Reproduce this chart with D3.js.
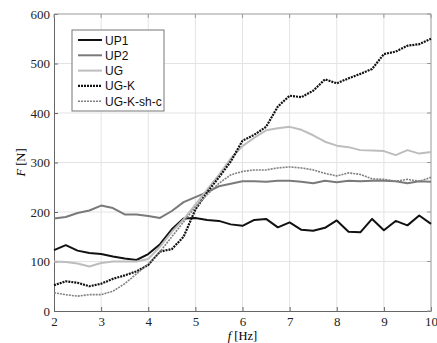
<!DOCTYPE html>
<html>
<head>
<meta charset="utf-8">
<script src="https://cdn.jsdelivr.net/npm/d3@7"></script>
<style>
  body { margin: 0; background: #fff; }
  .legend text { font-family: "Liberation Sans", Arial, sans-serif; font-size: 12px; fill: #111; }
</style>
</head>
<body>
<div id="chart"></div>
<script>
// frequency steps (Hz)
const freq = [2, 2.25, 2.5, 2.75, 3, 3.25, 3.5, 3.75, 4, 4.25, 4.5, 4.75, 5, 5.25, 5.5, 5.75,
  6, 6.25, 6.5, 6.75, 7, 7.25, 7.5, 7.75, 8, 8.25, 8.5, 8.75, 9, 9.25, 9.5, 9.75, 10];

const up1 = [123, 133, 122, 117, 115, 110, 106, 103, 115, 135, 165, 187, 188, 184, 182, 175,
  172, 184, 186, 169, 179, 164, 162, 168, 183, 160, 159, 186, 163, 182, 173, 193, 176];
const up2 = [187, 190, 198, 203, 213, 208, 195, 195, 192, 188, 202, 220, 230, 240, 252, 257,
  262, 262, 261, 263, 263, 261, 258, 263, 260, 263, 262, 263, 263, 262, 258, 262, 261];
const ug = [100, 99, 96, 90, 97, 100, 100, 100, 105, 130, 160, 185, 215, 245, 275, 308,
  333, 350, 365, 369, 372, 366, 355, 342, 334, 331, 325, 324, 323, 315, 325, 318, 321];
const ugK = [52, 60, 57, 50, 55, 65, 72, 80, 93, 120, 125, 150, 205, 240, 270, 302,
  344, 356, 372, 413, 435, 432, 445, 468, 460, 470, 479, 489, 519, 524, 536, 539, 550];
const ugKshc = [37, 33, 30, 33, 33, 40, 55, 75, 95, 120, 150, 180, 210, 235, 258, 275,
  282, 285, 285, 289, 291, 289, 285, 278, 273, 279, 276, 267, 266, 262, 266, 262, 270];

const xTicks = [2, 3, 4, 5, 6, 7, 8, 9, 10];
const yTicks = [0, 100, 200, 300, 400, 500, 600];

const series = [
  { name: 'UP1', values: up1, color: '#111', width: 2, dash: null },
  { name: 'UP2', values: up2, color: '#7a7a7a', width: 2, dash: null },
  { name: 'UG', values: ug, color: '#bdbdbd', width: 2, dash: null },
  { name: 'UG-K', values: ugK, color: '#111', width: 2.2, dash: '2,1' },
  { name: 'UG-K-sh-c', values: ugKshc, color: '#808080', width: 1.6, dash: '2,1' }
];

const serif = '"Liberation Serif", "Times New Roman", serif';
const width = 437, height = 343;
const margin = { top: 14, right: 6, bottom: 32, left: 54 };
const w = width - margin.left - margin.right;
const h = height - margin.top - margin.bottom;

const svg = d3.select('#chart').append('svg')
  .attr('width', width)
  .attr('height', height);

const plot = svg.append('g')
  .attr('transform', `translate(${margin.left},${margin.top})`);

const x = d3.scaleLinear().domain([2, 10]).range([0, w]);
const y = d3.scaleLinear().domain([0, 600]).range([h, 0]);

// grid
plot.append('g').selectAll('line')
  .data(xTicks.slice(1, -1))
  .enter().append('line')
  .attr('x1', d => x(d)).attr('x2', d => x(d))
  .attr('y1', 0).attr('y2', h)
  .attr('stroke', '#e3e3e3').attr('stroke-width', 1);
plot.append('g').selectAll('line')
  .data(yTicks.slice(1, -1))
  .enter().append('line')
  .attr('x1', 0).attr('x2', w)
  .attr('y1', d => y(d)).attr('y2', d => y(d))
  .attr('stroke', '#e3e3e3').attr('stroke-width', 1);

// axes, ticks pointing inward
const xAxis = d3.axisBottom(x).tickValues(xTicks).tickSizeInner(-4).tickSizeOuter(0).tickPadding(6);
const yAxis = d3.axisLeft(y).tickValues(yTicks).tickSizeInner(-4).tickSizeOuter(0).tickPadding(4);

function styleAxis(g) {
  g.select('.domain').attr('stroke', '#666');
  g.selectAll('.tick line').attr('stroke', '#666');
  g.selectAll('.tick text')
    .style('font-family', serif)
    .style('font-size', '13px')
    .attr('fill', '#222');
}

plot.append('g')
  .attr('transform', `translate(0,${h})`)
  .call(xAxis)
  .call(styleAxis);

plot.append('g')
  .call(yAxis)
  .call(styleAxis);

// top and right frame with ticks
plot.append('line').attr('x1', 0).attr('x2', w).attr('y1', 0).attr('y2', 0).attr('stroke', '#999');
plot.append('line').attr('x1', w).attr('x2', w).attr('y1', 0).attr('y2', h).attr('stroke', '#999');
plot.append('g').selectAll('line').data(xTicks).enter().append('line')
  .attr('x1', d => x(d)).attr('x2', d => x(d)).attr('y1', 0).attr('y2', 4).attr('stroke', '#999');
plot.append('g').selectAll('line').data(yTicks).enter().append('line')
  .attr('x1', w).attr('x2', w - 4).attr('y1', d => y(d)).attr('y2', d => y(d)).attr('stroke', '#999');

// lines
const line = d3.line()
  .x((d, i) => x(freq[i]))
  .y(d => y(d));

series.forEach(s => {
  plot.append('path')
    .datum(s.values)
    .attr('fill', 'none')
    .attr('stroke', s.color)
    .attr('stroke-width', s.width)
    .attr('stroke-dasharray', s.dash)
    .attr('stroke-linejoin', 'round')
    .attr('d', line);
});

// axis labels
svg.append('text')
  .attr('x', margin.left + w / 2)
  .attr('y', 340)
  .attr('text-anchor', 'middle')
  .style('font-family', serif)
  .style('font-size', '12.5px')
  .html('<tspan font-style="italic">f</tspan> [Hz]');

svg.append('text')
  .attr('transform', `translate(25,${margin.top + h / 2}) rotate(-90)`)
  .attr('text-anchor', 'middle')
  .style('font-family', serif)
  .style('font-size', '12.5px')
  .html('<tspan font-style="italic">F</tspan> [N]');

// legend
const legend = svg.append('g').attr('class', 'legend')
  .attr('transform', 'translate(72,30)');
legend.append('rect')
  .attr('width', 92).attr('height', 81)
  .attr('fill', '#fff').attr('stroke', '#777').attr('stroke-width', 1);
series.forEach((s, i) => {
  const yy = 10 + i * 15.3;
  legend.append('line')
    .attr('x1', 6).attr('x2', 30).attr('y1', yy).attr('y2', yy)
    .attr('stroke', s.color).attr('stroke-width', s.width)
    .attr('stroke-dasharray', s.dash);
  legend.append('text')
    .attr('x', 33).attr('y', yy + 4.5)
    .text(s.name);
});
</script>
</body>
</html>
